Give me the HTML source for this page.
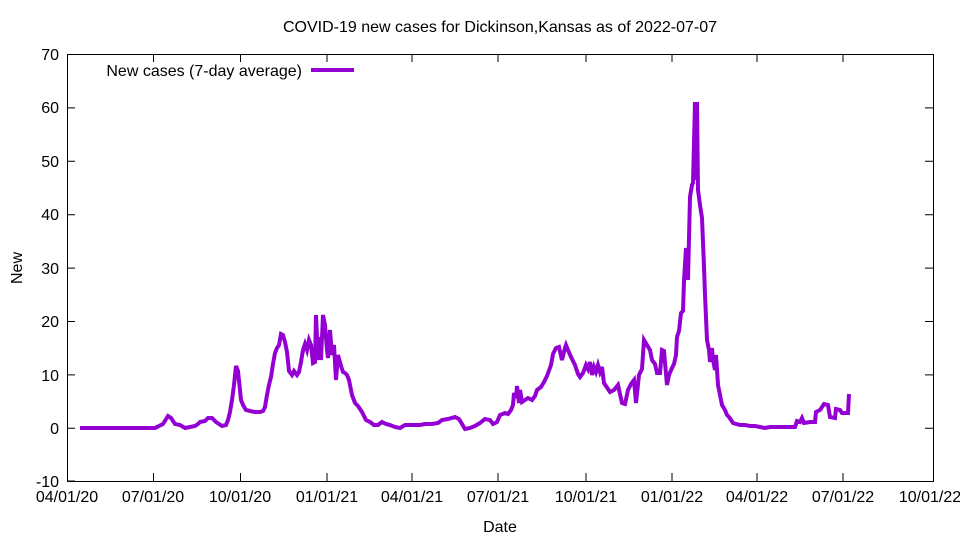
<!DOCTYPE html>
<html><head><meta charset="utf-8"><style>
body{margin:0;background:#fff}
svg{display:block;font-family:"Liberation Sans",sans-serif;font-size:16px}
</style></head><body>
<svg width="960" height="540" viewBox="0 0 960 540">
<rect x="67.5" y="54.5" width="866" height="427" fill="none" stroke="#000" stroke-width="1"/>
<g stroke="#000" stroke-width="1">
<path d="M67 54.5h8M67 107.9h8M67 161.3h8M67 214.7h8M67 268.1h8M67 321.5h8M67 374.9h8M67 428.3h8M67 481h8"/>
<path d="M933 54.5h-8M933 107.9h-8M933 161.3h-8M933 214.7h-8M933 268.1h-8M933 321.5h-8M933 374.9h-8M933 428.3h-8"/>
<path d="M153.5 481v-8M240.5 481v-8M327 481v-8M412 481v-8M498 481v-8M586 481v-8M672 481v-8M757 481v-8M843 481v-8M153.5 54v8M240.5 54v8M327 54v8M412 54v8M498 54v8M586 54v8M672 54v8M757 54v8M843 54v8"/>
</g>
<g text-anchor="end">
<text x="59" y="60">70</text><text x="59" y="113">60</text><text x="59" y="167">50</text><text x="59" y="220">40</text><text x="59" y="274">30</text><text x="59" y="327">20</text><text x="59" y="381">10</text><text x="59" y="434">0</text><text x="59" y="487">-10</text>
</g>
<g text-anchor="middle">
<text x="67" y="502">04/01/20</text><text x="153" y="502">07/01/20</text><text x="240" y="502">10/01/20</text><text x="327" y="502">01/01/21</text><text x="412" y="502">04/01/21</text><text x="498" y="502">07/01/21</text><text x="586" y="502">10/01/21</text><text x="672" y="502">01/01/22</text><text x="757" y="502">04/01/22</text><text x="843" y="502">07/01/22</text><text x="930" y="502">10/01/22</text>
<text x="500" y="532">Date</text>
<text x="500" y="32">COVID-19 new cases for Dickinson,Kansas as of 2022-07-07</text>
<text transform="translate(22 268) rotate(-90)">New</text>
</g>
<text x="302" y="76" text-anchor="end">New cases (7-day average)</text>
<line x1="311" y1="70" x2="354" y2="70" stroke="#9400d3" stroke-width="4"/>
<polyline fill="none" stroke="#9400d3" stroke-width="4" stroke-linejoin="miter" points="80,428 120,428 155,428 163,424 168,416 171,418 175,424 180,425 185,428 190,427 195,426 198,424 200,422 205,421 208,418 212,418 216,422 222,426 226,425 228,420 230,412 232,400 234,385 236,366 238,371 241,400 243,405 246,410 250,411 255,412 260,412 263,411 265,407 267,395 269,385 271,377 273,364 275,353 277,348 279,345 281,334 283,335 285,342 287,352 289,371 292,375 294,371 297,375 299,372 301,362 303,350 305,344 307,350 309,340 311,345 313,363 315,362 316,315 318,360 320,337 321,360 323,315 325,325 327,350 328,358 330,330 332,355 334,345 336,380 338,355 341,366 343,372 345,373 347,375 349,380 352,395 355,403 358,406 362,412 366,420 370,422 374,425 378,425 382,422 386,424 390,425 395,427 400,428 405,425 412,425 420,425 425,424 432,424 438,423 442,420 448,419 455,417 459,419 462,424 465,429 470,428 475,426 480,423 485,419 490,420 493,424 497,422 500,415 505,413 508,414 511,410 513,405 514,393 516,398 517,386 519,403 520,390 522,402 525,400 528,398 532,400 535,396 537,390 541,387 544,382 547,376 551,365 553,354 556,348 559,347 562,360 565,348 566,345 568,350 571,357 575,365 578,374 580,377 583,373 586,365 588,369 590,362 592,375 594,367 596,372 598,365 600,372 602,367 604,383 606,386 610,392 614,390 618,385 622,403 625,404 628,390 631,384 634,380 636,403 639,375 642,369 644,340 647,345 650,350 652,360 655,364 657,373 660,373 662,350 664,351 667,385 669,375 672,368 674,364 676,355 677,337 679,331 681,313 683,311 684,281 686,248 688,280 690,197 692,185 693,183 695,102 696,180 697,102 698,190 700,205 702,218 704,267 705,295 707,340 709,350 710,362 712,348 713,360 715,370 716,355 718,385 720,395 722,405 725,410 727,415 729,417 733,423 736,424 740,425 745,425 750,426 755,426 760,427 765,428 770,427 780,427 795,427 797,421 800,422 802,418 804,423 810,422 815,422 816,412 820,410 824,404 828,405 830,417 835,418 836,409 840,410 842,413 848,413 849,394"/>
</svg>
</body></html>
